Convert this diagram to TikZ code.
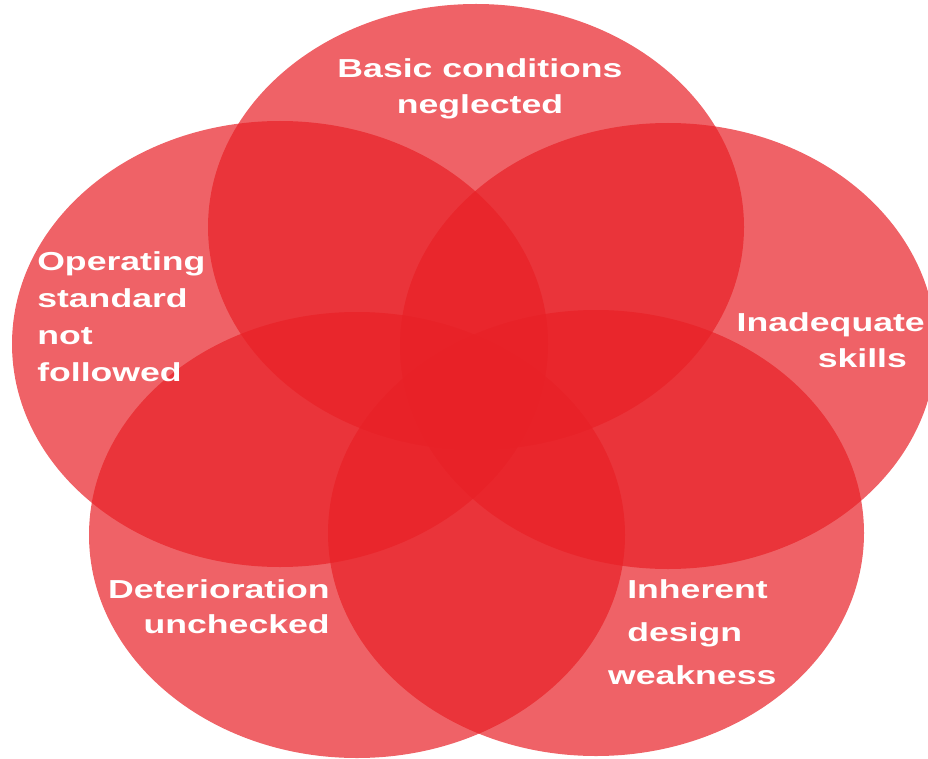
\documentclass[tikz,border=0pt]{standalone}
\usepackage{fontspec}
\setmainfont{Liberation Sans}
\usetikzlibrary{shapes.geometric}
\definecolor{petalred}{RGB}{232,32,38}

\begin{document}
\begin{tikzpicture}[x=1pt, y=-1pt]
	\tikzstyle{petal} = [ellipse, minimum width=536pt, minimum height=446pt, inner sep=0pt, fill=petalred, fill opacity=0.7]
	\tikzstyle{cause} = [inner sep=0pt, text=white, xscale=1.37]

	\useasboundingbox (0,0) rectangle (928,759);

	% the five overlapping petals
	\foreach \name/\x/\y in {basic/476/227, operating/280/344, skills/668/346, deterioration/357/535, design/596/533}
		\node[petal] (\name) at (\x, \y) {};

	\node[cause, align=center, anchor=north, font=\bfseries\fontsize{26}{36}\selectfont] (basicText) at (480, 58) {Basic conditions\\neglected};
	\node[cause, align=left, anchor=north west, font=\bfseries\fontsize{26}{37}\selectfont] (operatingText) at (37, 251) {Operating\\standard\\not\\followed};
	\node[cause, align=right, anchor=north east, font=\bfseries\fontsize{26}{36}\selectfont] (skillsText) at (925, 312) {Inadequate\\skills\hspace*{13pt}};
	\node[cause, align=right, anchor=north east, font=\bfseries\fontsize{26}{35}\selectfont] (deteriorationText) at (330, 579) {Deterioration\\unchecked};
	\node[cause, align=left, anchor=north west, font=\bfseries\fontsize{26}{43}\selectfont] (designText) at (627, 579) {Inherent\\design\\\hspace*{-14pt}weakness};

\end{tikzpicture}
\end{document}
